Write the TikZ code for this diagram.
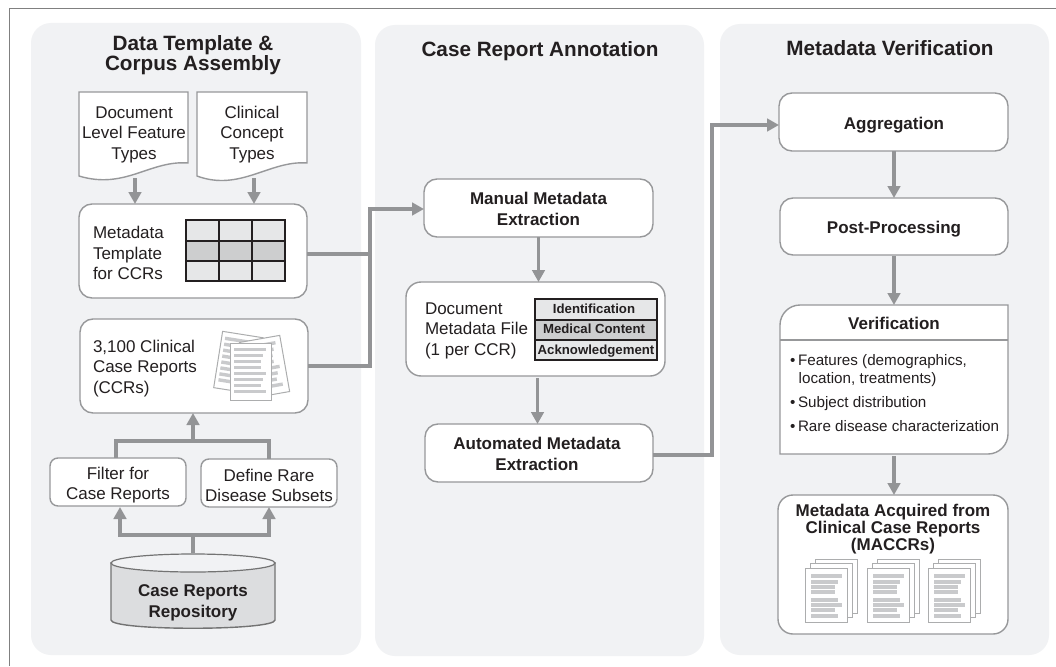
\documentclass[tikz,border=0pt]{standalone}
\usepackage{fontspec}
\setmainfont{Liberation Sans}
\usetikzlibrary{arrows.meta,calc}
\definecolor{edgegray}{HTML}{97989A}
\definecolor{linkgray}{HTML}{939496}
\definecolor{panelgray}{HTML}{F1F2F4}
\definecolor{inkblack}{HTML}{231F20}
\definecolor{barcolor}{HTML}{C9CACC}
\definecolor{cellA}{HTML}{E6E7E8}
\definecolor{cellB}{HTML}{CDCECF}
\definecolor{repofill}{HTML}{DCDDDF}
\tikzset{
  panel/.style={fill=panelgray,draw=none,rounded corners=20pt},
  plainbox/.style={draw=edgegray,fill=white,line width=1.4pt,rounded corners=#1,minimum width=0pt,minimum height=0pt,inner sep=0pt,outer sep=0pt},
  plainbox/.default=13pt,
  body/.style={font=\fontsize{17}{20.5}\selectfont,text=inkblack,align=center,inner sep=0pt,outer sep=0pt},
  bodyleft/.style={body,align=left,anchor=west},
  boldtext/.style={font=\fontsize{17}{21}\selectfont\bfseries,text=inkblack,align=center,inner sep=0pt,outer sep=0pt},
  titletext/.style={font=\fontsize{20.7}{20}\selectfont\bfseries,text=inkblack,align=center,inner sep=0pt,outer sep=0pt},
  tabletext/.style={font=\fontsize{13.2}{15}\selectfont\bfseries,text=inkblack,inner sep=0pt,outer sep=0pt},
  bullettext/.style={font=\fontsize{15.2}{18}\selectfont,text=inkblack,align=left,anchor=west,inner sep=0pt,outer sep=0pt},
  link/.style={draw=linkgray,line width=3.4pt},
  linkarrow/.style={link,-{Triangle[length=12pt,width=12.5pt]}},
  pagesheet/.style={draw=edgegray!80,fill=white,line width=1pt},
  pagebar/.style={fill=barcolor,draw=none},
  holder/.style={inner sep=0pt,outer sep=0pt,draw=none},
}
\newcommand{\stackpage}[2]{%
  \draw[pagesheet] (#1,#2) rectangle ++(42,54);
  \foreach \yy/\ww in {8/31,14/27,19/24,24/24,32/27,37/31,42/24,48/27}
    \fill[pagebar] ($(#1,#2)+(6,\yy-1.7)$) rectangle ++(\ww,3.4);
}
\newcommand{\docstack}[2]{%
  \stackpage{\the\numexpr#1+10\relax}{\the\numexpr#2-9\relax}
  \stackpage{\the\numexpr#1+5\relax}{\the\numexpr#2-5\relax}
  \stackpage{#1}{#2}
}
\newcommand{\loosepage}{%
  \draw[pagesheet] (-20.5,-28.5) rectangle (20.5,28.5);
  \foreach \yy/\ww in {-22/32,-16/29,-10/27,-4/27,2/32,8/29,14/27,20/32}
    \fill[pagebar] (-17,\yy-1.7) rectangle ++(\ww,3.4);
}
\begin{document}
\begin{tikzpicture}[x=1pt,y=-1pt]
\useasboundingbox (0,0) rectangle (1056,666);
\fill[white] (0,0) rectangle (1056,666);
\draw[draw=black!50,line width=1pt] (9.5,666) -- (9.5,9) -- (1056,9);
% panels
\fill[panel] (31,23) rectangle (361,655);
\fill[panel] (375,25) rectangle (704,656);
\fill[panel] (720,24) rectangle (1049,655);
\node[titletext] (t1) at (193,55.5) {Data Template \&\\Corpus Assembly};
\node[titletext] (t2) at (540,51) {Case Report Annotation};
\node[titletext] (t3) at (890,48) {Metadata Verification};

% document shapes
\draw[draw=edgegray,fill=white,line width=1.4pt] (79,92) -- (188,92) -- (188,163) .. controls (150,160) and (125,190) .. (79,176) -- cycle;
\draw[draw=edgegray,fill=white,line width=1.4pt] (197,92) -- (307,92) -- (307,163) .. controls (270,160) and (240,192) .. (197,176) -- cycle;
\node[holder,minimum width=109pt,minimum height=86pt] (doc1) at (133.5,135) {};
\node[holder,minimum width=110pt,minimum height=86pt] (doc2) at (252,135) {};
\node[body] (doc1t) at (134,134.5) {Document\\Level Feature\\Types};
\node[body] (doc2t) at (252,134.5) {Clinical\\Concept\\Types};

% metadata template
\node[plainbox,minimum width=228pt,minimum height=94pt] (tpl) at (193,251) {};
\node[bodyleft] (tplt) at (93,253) {Metadata\\Template\\for CCRs};
\foreach \r/\ya/\yb/\c in {1/220/241/cellA,2/241/261/cellB,3/261/281/cellA}
  \fill[\c] (186,\ya) rectangle (285,\yb);
\draw[draw=inkblack,line width=1.5pt] (186,220) rectangle (285,281);
\draw[draw=inkblack,line width=1.5pt] (186,241) -- (285,241) (186,261) -- (285,261) (219,220) -- (219,281) (252,220) -- (252,281);

% CCR box
\node[plainbox,minimum width=228pt,minimum height=94pt] (ccr) at (194,366) {};
\node[bodyleft] (ccrt) at (93,368.5) {3,100 Clinical\\Case Reports\\(CCRs)};
\begin{scope}[shift={(238.4,362.7)},rotate=-9]\loosepage\end{scope}
\begin{scope}[shift={(264.5,367)},rotate=10]\loosepage\end{scope}
\begin{scope}[shift={(251,371.5)}]\loosepage\end{scope}

% filter, define
\node[plainbox=8pt,minimum width=136pt,minimum height=48pt] (flt) at (118,482) {};
\node[body] (fltt) at (118,485) {Filter for\\Case Reports};
\node[plainbox=8pt,minimum width=136pt,minimum height=48pt] (dfn) at (269,483) {};
\node[body] (dfnt) at (269,485.5) {Define Rare\\Disease Subsets};

% repository
\draw[draw=black!55,fill=repofill,line width=1.4pt] (111,563) -- (111,620) .. controls (111,631) and (275,631) .. (275,620) -- (275,563) -- cycle;
\draw[draw=black!55,fill=panelgray,line width=1.2pt] (193,554) .. controls (148,554) and (111,558) .. (111,563) .. controls (111,568) and (148,572) .. (193,572) .. controls (238,572) and (275,568) .. (275,563) .. controls (275,558) and (238,554) .. (193,554) -- cycle;
\node[holder,minimum width=164pt,minimum height=74pt] (repo) at (193,591) {};
\node[boldtext] (repot) at (193,602.5) {Case Reports\\Repository};

% manual extraction
\node[plainbox,minimum width=229pt,minimum height=58pt] (man) at (538.5,208) {};
\node[boldtext] (mant) at (538.5,209) {Manual Metadata\\Extraction};
% document metadata file
\node[plainbox=15pt,minimum width=259pt,minimum height=94pt] (file) at (535.5,329) {};
\node[bodyleft] (filet) at (425,330.5) {Document\\Metadata File\\(1 per CCR)};
\foreach \ya/\yb/\c in {299/320/cellA,320/340/cellB,340/360/cellA}
  \fill[\c] (535,\ya) rectangle (657,\yb);
\draw[draw=inkblack,line width=1.5pt] (535,299) rectangle (657,360);
\draw[draw=inkblack,line width=1.5pt] (535,320) -- (657,320) (535,340) -- (657,340);
\node[tabletext] (c1) at (594,308.5) {Identification};
\node[tabletext] (c2) at (594,329) {Medical Content};
\node[tabletext] (c3) at (596,351) {Acknowledgement};
% automated
\node[plainbox,minimum width=228pt,minimum height=58pt] (aut) at (539,453) {};
\node[boldtext] (autt) at (537,454) {Automated Metadata\\Extraction};

% right column
\node[plainbox,minimum width=229pt,minimum height=58pt] (agg) at (893.5,122) {};
\node[boldtext] (aggt) at (894,125) {Aggregation};
\node[plainbox,minimum width=228pt,minimum height=57pt] (post) at (894,226.5) {};
\node[boldtext] (postt) at (894,229) {Post-Processing};
\draw[draw=edgegray,fill=white,line width=1.4pt]
  (780,325) .. controls (780,314) and (789,305) .. (800,305) -- (1008,305) -- (1008,434)
  .. controls (1008,445) and (999,454) .. (988,454) -- (780,454) -- cycle;
\draw[draw=edgegray,line width=1.4pt] (780,340) -- (1008,340);
\node[holder,minimum width=228pt,minimum height=149pt] (ver) at (894,379.5) {};
\node[boldtext] (vert) at (894,323) {Verification};
\node[bullettext] (b1) at (790,371) {•\hspace{2.7pt}Features (demographics,\\\hspace{8.7pt}location, treatments)};
\node[bullettext] (b2) at (790,404) {•\hspace{2.7pt}Subject distribution};
\node[bullettext] (b3) at (790,426) {•\hspace{2.7pt}Rare disease characterization};
\node[plainbox=15pt,minimum width=230pt,minimum height=139pt] (mac) at (893,564.5) {};
\node[font=\fontsize{17}{17}\selectfont\bfseries,text=inkblack,align=center,inner sep=0pt] (mact) at (893,529) {Metadata Acquired from\\Clinical Case Reports\\(MACCRs)};
\docstack{805}{568}
\docstack{867}{568}
\docstack{928}{568}

% connectors
\coordinate (jtop) at (370,209);
\coordinate (jtpl) at (370,254);
\coordinate (jccr) at (370,366);
\draw[linkarrow] (doc1.south) ++(1.5,0) -- ++(0,26);
\draw[linkarrow] ([xshift=2pt]doc2.south) -- ([xshift=2pt]doc2.south |- tpl.north);
\draw[link] (tpl.east |- jtpl) -- (jtpl);
\draw[linkarrow] (ccr.east |- jccr) -- (jccr) -- (jtop) -- (man.west |- jtop);
\draw[linkarrow] (man.south) -- (man.south |- file.north);
\draw[linkarrow] ([yshift=-2pt]file.south) ++(2,0) -- ++(0,46);
\coordinate (jaut) at (712,455);
\coordinate (jagg) at (712,125);
\draw[linkarrow] (aut.east |- jaut) -- (jaut) -- (jagg) -- (agg.west |- jagg);
\draw[linkarrow] (agg.south -| post.north) -- (post.north);
\draw[linkarrow] ([yshift=-1pt]post.south) -- (ver.north);
\draw[linkarrow] ([yshift=-2pt]ver.south) -- (ver.south |- mac.north);
% left branches
\coordinate (jup) at (193,441);
\draw[link] (flt.north -| 116,0) -- (116,441) -- (269,441) -- (dfn.north);
\draw[linkarrow] (jup) -- (jup |- ccr.south);
\coordinate (jdn) at (193,535);
\draw[link] (jdn |- 0,553) -- (jdn);
\draw[linkarrow] (jdn) -- (120,535) -- (120,507);
\draw[linkarrow] (jdn) -- (269,535) -- (dfn.south);
\end{tikzpicture}
\end{document}
